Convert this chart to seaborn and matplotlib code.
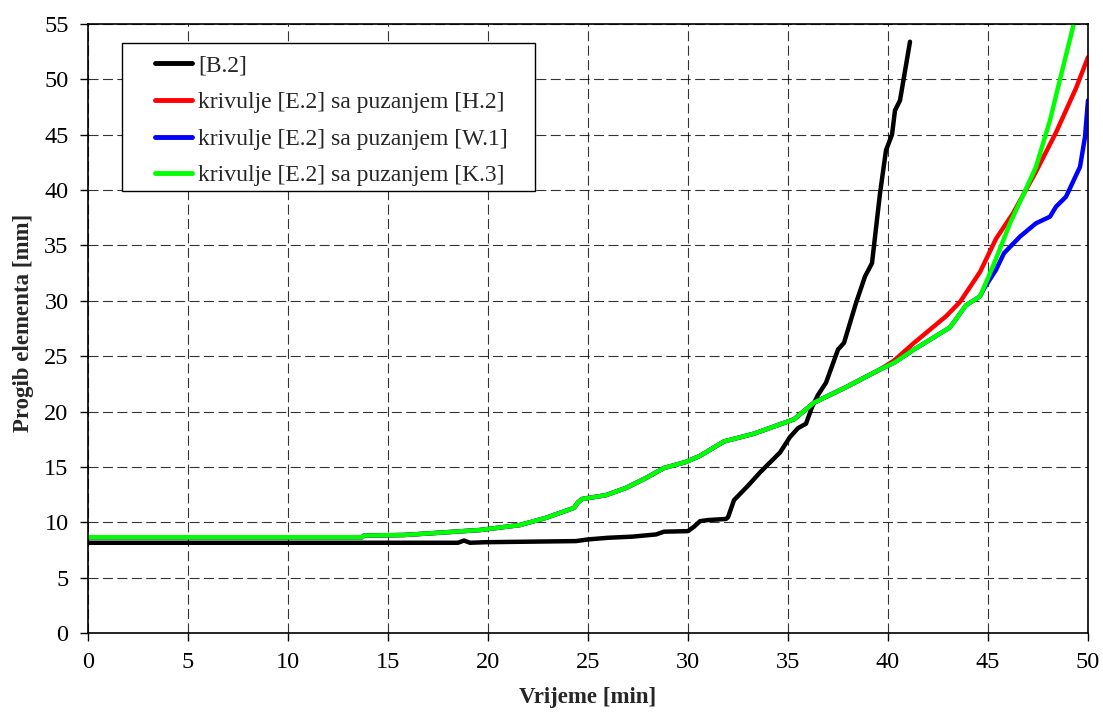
import numpy as np
import pandas as pd
import matplotlib
matplotlib.use("Agg")
import matplotlib.pyplot as plt
import seaborn as sns
from matplotlib.path import Path

# ---------------- data ----------------
labels = ["[B.2]",
          "krivulje [E.2] sa puzanjem [H.2]",
          "krivulje [E.2] sa puzanjem [W.1]",
          "krivulje [E.2] sa puzanjem [K.3]"]
colors = ["#000000", "#FF0000", "#0000FF", "#00FF00"]

# [B.2]
b_x = [0, 18.5, 18.8, 19.1, 19.9, 24.4, 25.0, 26.0, 27.2, 28.4, 28.8, 30.0, 30.3,
       30.6, 31.0, 31.9, 32.0, 32.3, 33.0, 33.6, 34.6, 35.1, 35.5, 35.9, 36.2, 36.5,
       36.9, 37.5, 37.8, 38.1, 38.4, 38.85, 39.2, 39.6, 39.9, 40.2, 40.35, 40.6, 41.1]
b_y = [8.15, 8.15, 8.35, 8.15, 8.2, 8.3, 8.45, 8.6, 8.7, 8.9, 9.15, 9.2, 9.6,
       10.1, 10.2, 10.3, 10.45, 12.0, 13.3, 14.5, 16.3, 17.7, 18.5, 18.9, 20.4, 21.5,
       22.6, 25.6, 26.2, 28.0, 29.8, 32.2, 33.4, 39.7, 43.6, 45.0, 47.2, 48.1, 53.4]

# [K.3] (green) - the common early part is shared by all three creep curves
k_x = [0, 13.7, 13.8, 15.8, 17.6, 19.6, 21.6, 22.9, 24.3, 24.5, 24.7, 25.9, 26.9,
       27.9, 28.8, 29.9, 30.6, 31.8, 33.3, 35.3, 36.3, 37.9, 39.6, 40.3, 41.3, 43.1,
       43.9, 44.6, 45.1, 45.4, 46.1, 47.1, 47.4, 48.1, 48.6, 49.3]
k_y = [8.65, 8.65, 8.8, 8.85, 9.06, 9.3, 9.75, 10.4, 11.3, 11.8, 12.1, 12.45, 13.1,
       14.0, 14.9, 15.45, 16.0, 17.3, 18.0, 19.3, 20.8, 22.2, 23.8, 24.4, 25.6, 27.6,
       29.6, 30.4, 32.5, 33.8, 37.0, 40.9, 42.1, 46.3, 50.0, 55.1]

# [H.2] (red) tail after it leaves the common curve
h_split = 39.6
h_x = [40.3, 41.3, 42.9, 43.6, 44.6, 45.4, 46.25, 47.35, 48.4, 49.4, 50.0]
h_y = [24.6, 26.2, 28.6, 29.9, 32.6, 35.6, 37.9, 41.5, 45.2, 49.2, 52.0]

# [W.1] (blue) tail after it leaves the green curve
w_split = 44.6
w_x = [44.8, 45.4, 45.8, 46.6, 46.8, 47.4, 48.1, 48.4, 48.9, 49.6, 49.85, 50.0]
w_y = [31.1, 32.8, 34.3, 35.8, 36.1, 37.0, 37.6, 38.5, 39.4, 42.1, 44.8, 48.1]

x_ticks = list(range(0, 51, 5))
y_ticks = list(range(0, 56, 5))

# ---------------- build series ----------------
k_x_arr, k_y_arr = np.array(k_x), np.array(k_y)
m_h = k_x_arr <= h_split
m_w = k_x_arr <= w_split
series = {
    labels[0]: (np.array(b_x), np.array(b_y)),
    labels[1]: (np.r_[k_x_arr[m_h], h_x], np.r_[k_y_arr[m_h], h_y]),
    labels[2]: (np.r_[k_x_arr[m_w], w_x], np.r_[k_y_arr[m_w], w_y]),
    labels[3]: (k_x_arr, k_y_arr),
}
frames = []
for lab, (xx, yy) in series.items():
    frames.append(pd.DataFrame({"x": xx, "y": yy, "serie": lab}))
df = pd.concat(frames, ignore_index=True)

# ---------------- style ----------------
sns.set_style("white")
plt.rcParams["font.family"] = ["Liberation Serif", "DejaVu Serif"]
FS_TICK = 17.5
FS_LEG = 17
FS_LAB = 16.5

fig = plt.figure(figsize=(11.03, 7.13), dpi=100)
ax = fig.add_axes([88 / 1103, 80 / 713, 1000 / 1103, 609 / 713])

for lab, col in zip(labels, colors):
    sub = df[df["serie"] == lab]
    sns.lineplot(data=sub, x="x", y="y", sort=False, estimator=None, color=col,
                 linewidth=3.2, label=lab, ax=ax, solid_capstyle="round",
                 solid_joinstyle="round")

ax.set_xlim(0, 50)
ax.set_ylim(0, 55)
ax.set_xticks(x_ticks)
ax.set_yticks(y_ticks)
ax.set_xticklabels([str(t) for t in x_ticks], fontsize=FS_TICK)
ax.set_yticklabels([str(t) for t in y_ticks], fontsize=FS_TICK)
ax.tick_params(axis="both", which="major", direction="out", length=6, width=1,
               color="black", bottom=True, left=True, pad=8, labelcolor="black")

ax.set_axisbelow(True)
ax.grid(True, color="black", linestyle=(0, (9, 4)), linewidth=0.8, alpha=0.8)

for sp in ax.spines.values():
    sp.set_visible(True)
    sp.set_color("black")
    sp.set_linewidth(1.2)

ax.set_xlabel("Vrijeme [min]", fontsize=FS_LAB, fontweight="bold")
ax.set_ylabel("Progib elementa [mm]", fontsize=FS_LAB, fontweight="bold")
ax.xaxis.set_label_coords(0.5, (633 - 687) / 609)
ax.yaxis.set_label_coords((34 - 88) / 1000, (633 - 323) / 609)

# ---------------- legend ----------------
leg = ax.legend(loc="upper left", bbox_to_anchor=((155 - 88) / 1000, (633 - 55) / 609),
                fontsize=FS_LEG, frameon=True, fancybox=False, borderpad=0.0,
                borderaxespad=0.0, handlelength=1.55, handletextpad=0.28,
                labelspacing=0.64, framealpha=1.0)
leg.get_frame().set_edgecolor("black")
leg.get_frame().set_linewidth(1.0)
for h in leg.get_lines():
    h.set_linewidth(3.5)


def legend_box(x0, y0, width, height, mutation_size):
    padx_l = 1.4 * mutation_size
    padx_r = 1.15 * mutation_size
    pad_top = 0.5 * mutation_size
    pad_bot = 0.2 * mutation_size
    x1, x2 = x0 - padx_l, x0 + width + padx_r
    y1, y2 = y0 - pad_bot, y0 + height + pad_top
    return Path([(x1, y1), (x2, y1), (x2, y2), (x1, y2), (x1, y1)], closed=True)


leg.get_frame().set_boxstyle(legend_box)

fig.savefig("out.png", dpi=100)
